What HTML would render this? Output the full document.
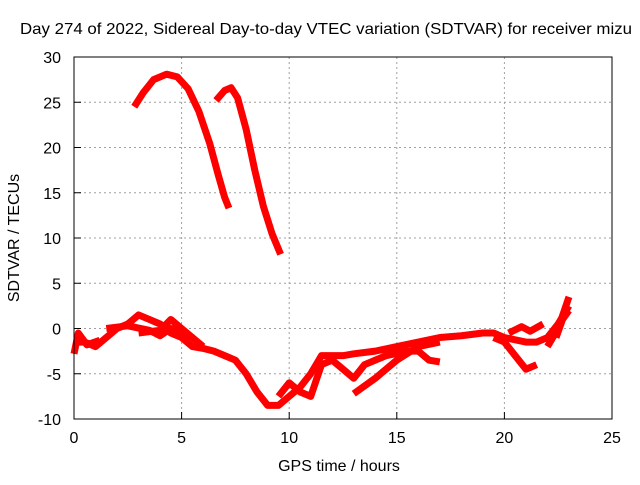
<!DOCTYPE html>
<html><head><meta charset="utf-8"><style>
body{margin:0;background:#fff}
svg text{font-family:"Liberation Sans",sans-serif;font-size:16px;fill:#000}
</style></head><body>
<svg width="640" height="480">
<text x="20" y="34" textLength="612" lengthAdjust="spacingAndGlyphs">Day 274 of 2022, Sidereal Day-to-day VTEC variation (SDTVAR) for receiver mizu</text>
<g id="grid"></g>
<g id="series"></g>
<rect x="74" y="57" width="538" height="362" fill="none" stroke="#000" stroke-width="1"/>
<g id="ticks"></g>
<text x="339" y="471" text-anchor="middle">GPS time / hours</text>
<text transform="translate(19,238) rotate(-90)" text-anchor="middle">SDTVAR / TECUs</text>
</svg>
<script>
const xTicks=[0,5,10,15,20,25];
const yTicks=[-10,-5,0,5,10,15,20,25,30];
const upper1=[[2.8,24.5],[3.2,26],[3.7,27.5],[4.3,28.1],[4.8,27.8],[5.3,26.5],[5.8,24],[6.3,20.5],[6.7,17],[7.0,14.5],[7.2,13.3]];
const upper2=[[6.6,25.2],[7.0,26.3],[7.3,26.6],[7.6,25.5],[8.0,22],[8.4,17.5],[8.8,13.5],[9.2,10.5],[9.6,8.2]];
const mainTrack=[[0,-1.5],[0.5,-1.5],[1,-2],[1.5,-1],[2,0],[2.5,0.5],[3,1.5],[3.5,1],[4,0.5],[4.5,-0.5],[5,-1],[5.5,-2],[6,-2.2],[6.5,-2.5],[7,-3],[7.5,-3.5],[8,-5],[8.5,-7],[9,-8.5],[9.5,-8.5],[10,-7.5],[10.5,-6.5],[11,-5],[11.5,-3],[12,-3],[12.5,-3],[13,-2.8],[14,-2.5],[15,-2],[16,-1.5],[17,-1],[18,-0.8],[19,-0.5],[19.5,-0.5],[20,-1],[21,-1.5],[21.5,-1.5],[22,-1],[22.5,0.5],[23,2.5]];
const branchA=[[1.5,0],[2.5,0.3],[3.5,-0.2],[4,-0.8],[4.5,0],[5,-0.5],[5.5,-1],[6,-2]];
const branchB=[[3,-0.5],[4,-0.2],[4.5,1],[5,0],[5.5,-1]];
const branchC=[[0,-2.8],[0.2,-0.5],[0.6,-1.8],[1.2,-1.3]];
const branchD=[[9.5,-7.5],[10,-6],[10.5,-7],[11,-7.5],[11.5,-4],[12,-3.5],[12.5,-4.5],[13,-5.5],[13.5,-4],[14.5,-3],[15.5,-2.5],[16,-2.5],[16.5,-3.5],[17,-3.7]];
const branchE=[[13,-7.2],[14,-5.5],[15,-3.5],[16,-2],[17,-1.5]];
const branchF=[[19.5,-1],[20,-1.5],[20.5,-3],[21,-4.5],[21.5,-4]];
const branchG=[[20.2,-0.5],[20.8,0.2],[21.2,-0.3],[21.8,0.5]];
const branchH=[[22,-2],[22.5,0],[23,3.5]];
const branchI=[[22.4,-1],[22.7,1],[23,2]];
const allSeries=[upper1,upper2,mainTrack,branchA,branchB,branchC,branchD,branchE,branchF,branchG,branchH,branchI];
const X=h=>74+h*538/25, Y=v=>57+(30-v)*362/40;
const ns="http://www.w3.org/2000/svg";
const grid=document.getElementById('grid'),ticks=document.getElementById('ticks'),ser=document.getElementById('series');
function mk(tag,at,parent){const e=document.createElementNS(ns,tag);for(const k in at)e.setAttribute(k,at[k]);parent.appendChild(e);return e;}
xTicks.forEach(t=>{const x=X(t);
 if(t>0&&t<25){const g=mk('line',{x1:x,x2:x,y1:57,y2:419,stroke:'#a0a0a0','stroke-dasharray':'2,3'},grid);
 
 }
 const l=mk('line',{x1:x,x2:x,y1:419,y2:412,stroke:'#000'},ticks);
 
 
 const tx=mk('text',{x:x,y:443,'text-anchor':'middle'},ticks);tx.textContent=t;
 
 });
yTicks.forEach(t=>{const y=Y(t);
 if(t>-10&&t<30){const g=mk('line',{x1:74,x2:612,y1:y,y2:y,stroke:'#a0a0a0','stroke-dasharray':'2,3'},grid);
 
 }
 const l=mk('line',{x1:74,x2:81,y1:y,y2:y,stroke:'#000'},ticks);
 
 
 const tx=mk('text',{x:61,y:y+6,'text-anchor':'end'},ticks);tx.textContent=t;
 
 });
allSeries.forEach(s=>{const p=mk('polyline',{points:s.map(d=>X(d[0])+','+Y(d[1])).join(' '),fill:'none',stroke:'#ff0000','stroke-width':7,'stroke-linejoin':'round'},ser);
 
 });
</script>
</body></html>
